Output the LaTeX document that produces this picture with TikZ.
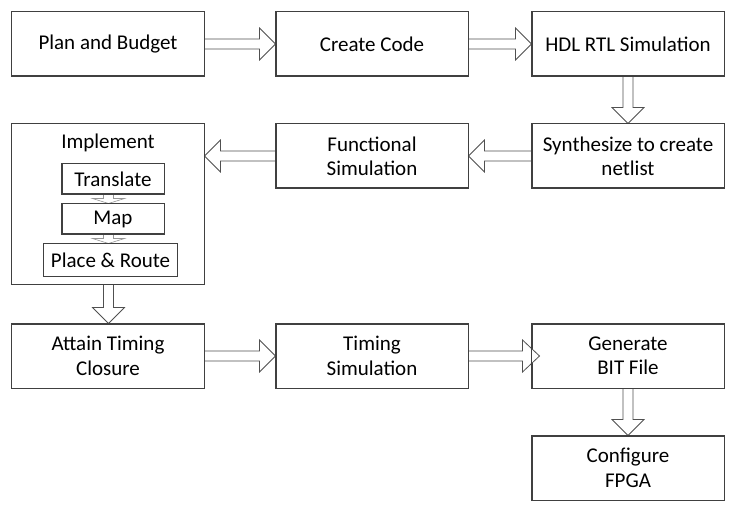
\documentclass[tikz,border=0pt]{standalone}
\usepackage{fontspec}
\setmainfont{Carlito}
\usetikzlibrary{calc}
\definecolor{boxline}{RGB}{64,64,64}
\definecolor{arrline}{RGB}{80,80,80}
\definecolor{innarr}{RGB}{150,150,150}
\tikzset{
  lbl/.style={font=\fontsize{21bp}{24.4bp}\selectfont},
  box/.style={draw=boxline, line width=1bp, rectangle, inner sep=0pt, align=center,
    minimum width=192bp, minimum height=64bp, lbl},
  inbox/.style={box, minimum width=102bp, minimum height=30bp},
  barrow/.style={draw=arrline, line width=0.8bp, fill=white, line join=miter},
}
% #1 options, #2 start, #3 tip, #4 head length
\newcommand\blockarr[4][]{%
  \coordinate (hb) at ($(#3)!#4!(#2)$);
  \path[barrow,#1] ($(#2)!5bp!90:(#3)$) -- ($(hb)!5bp!90:(#3)$) -- ($(hb)!16bp!90:(#3)$)
    -- (#3) -- ($(hb)!16bp!-90:(#3)$) -- ($(hb)!5bp!-90:(#3)$) -- ($(#2)!5bp!-90:(#3)$) -- cycle;
}
\begin{document}
\begin{tikzpicture}[x=1bp,y=-1bp]
\useasboundingbox[fill=white] (0,0) rectangle (736,509);
% nodes
\node[box] (plan) at (108,44) {Plan and Budget};
\node[box] (code) at (372,44) {Create Code};
\node[box] (hdl) at (628,44) {HDL RTL Simulation};
\node[box, minimum height=160bp] (impl) at (108,204) {};
\node[lbl, inner sep=0pt] (impllab) at (108,143) {Implement};
\node[box] (func) at (372,156) {Functional\\Simulation};
\node[box] (synth) at (628,156) {Synthesize to create\\netlist};
\node[box] (attain) at (108,356) {Attain Timing\\Closure};
\node[box] (timing) at (372,356) {Timing\\Simulation};
\node[box] (gen) at (628,356) {Generate\\BIT File};
\node[box] (conf) at (628,468) {Configure\\FPGA};
\node[inbox] (trans) at (113,179) {Translate};
\node[inbox] (map) at (113,219) {Map};
\node[inbox, minimum width=133bp, minimum height=32bp] (place) at (110.5,260) {Place \& Route};
% connectors
\coordinate (gtip) at ($(gen.west)+(8,0)$);
\coordinate (itip) at (impl.east |- func.west);
\coordinate (ist) at ($(impl.south)+(0.5,0)$);
\coordinate (ast) at ($(attain.north)+(0.5,0)$);
\coordinate (tsb) at ($(trans.south)+(-4.5,0)$);
\coordinate (mpt) at ($(map.north)+(-4.5,0)$);
\coordinate (msb) at ($(map.south)+(-4.5,0)$);
\coordinate (plt) at ($(place.north)+(-2,0)$);
\blockarr{plan.east}{code.west}{16bp}
\blockarr{code.east}{hdl.west}{16bp}
\blockarr{hdl.south}{synth.north}{16bp}
\blockarr{synth.west}{func.east}{16bp}
\blockarr{func.west}{itip}{16bp}
\blockarr{ist}{ast}{16bp}
\blockarr{attain.east}{timing.west}{16bp}
\blockarr{timing.east}{gtip}{17bp}
\blockarr{gen.south}{conf.north}{16bp}
\blockarr[draw=innarr, line width=0.6bp]{tsb}{mpt}{5bp}
\blockarr[draw=innarr, line width=0.6bp]{msb}{plt}{5bp}
% redraw boxes over arrows
\foreach \n in {plan,code,hdl,impl,func,synth,attain,timing,gen,conf,trans,map,place}
  \draw[boxline, line width=1bp] (\n.north west) rectangle (\n.south east);
\end{tikzpicture}
\end{document}
